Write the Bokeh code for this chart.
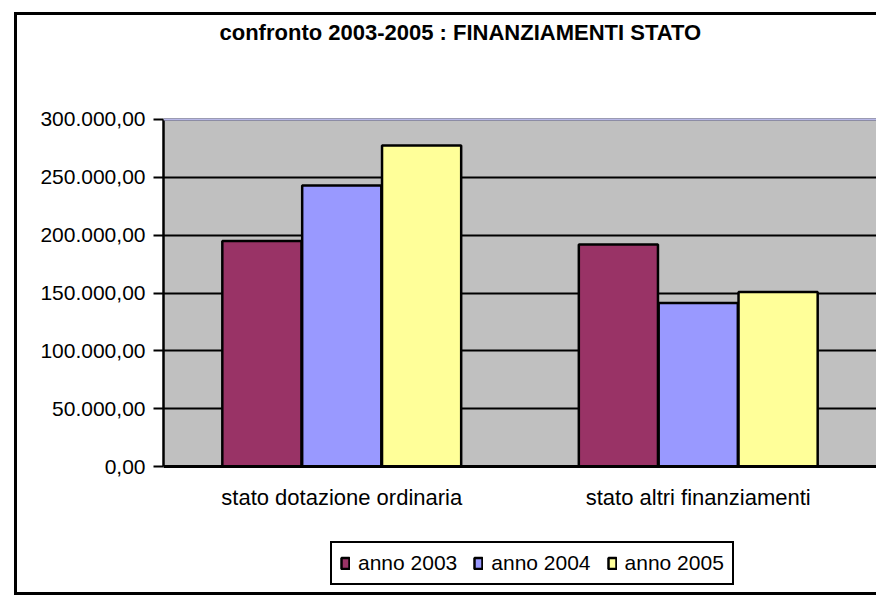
from bokeh.plotting import figure
from bokeh.models import (FactorRange, Range1d, SingleIntervalTicker, CustomJSTickFormatter,
                          Legend, LegendItem, Span, BoxAnnotation, ColumnDataSource)
from bokeh.transform import dodge
from bokeh.embed import file_html
from bokeh.resources import INLINE

categories = ["stato dotazione ordinaria", "stato altri finanziamenti"]
series_names = ["anno 2003", "anno 2004", "anno 2005"]
v2003 = [195000, 192000]
v2004 = [243000, 141500]
v2005 = [277500, 151000]
colors = ["#993366", "#9999FF", "#FFFF99"]
title_text = "confronto 2003-2005 : FINANZIAMENTI STATO"
y_max = 300000
y_step = 50000

FONT = "Liberation Sans"

# frame spans from below the title to the canvas bottom; the value axis covers 0..y_max
PX_PER_UNIT = 348 / y_max
y_lo = -129 / PX_PER_UNIT
y_hi = y_max + 58 / PX_PER_UNIT

src = ColumnDataSource(dict(cat=categories, a=v2003, b=v2004, c=v2005))

p = figure(x_range=FactorRange(*categories), y_range=Range1d(y_lo, y_hi),
           width=876, height=595, output_backend="svg", toolbar_location=None,
           min_border_left=163, min_border_right=0, min_border_top=0, min_border_bottom=0)

# outer chart border (left, top, bottom) drawn as inset shadows on the host element
p.styles = {"box-shadow": ("inset 14px 0 0 white, inset 0 12px 0 white, "
                           "inset 17px 0 0 black, inset 0 15px 0 black, inset 0 -3px 0 black"),
            "background-color": "white"}

p.background_fill_color = None
p.border_fill_color = None
p.outline_line_color = None

# grey plot area
p.add_layout(BoxAnnotation(bottom=0, top=y_max, fill_color="#C0C0C0", fill_alpha=1,
                           line_color=None, level="image"))

offs = [-0.224, 0.0, 0.224]
renderers = []
for key, off, col in zip(["a", "b", "c"], offs, colors):
    r = p.vbar(x=dodge("cat", off, range=p.x_range), top=key, width=0.222, source=src,
               fill_color=col, line_color="black", line_width=2.5)
    renderers.append(r)

# grid
p.xgrid.grid_line_color = None
p.ygrid.grid_line_color = "black"
p.ygrid.grid_line_width = 2
p.ygrid.level = "underlay"
p.add_layout(Span(location=y_max, dimension="width", line_color="#B8B8E8", line_width=2))

# y axis
p.yaxis.bounds = (0, y_max)
p.yaxis.ticker = SingleIntervalTicker(interval=y_step)
p.yaxis.formatter = CustomJSTickFormatter(code="""
const parts = tick.toFixed(2).split('.');
parts[0] = parts[0].replace(/\\B(?=(\\d{3})+(?!\\d))/g, '.');
return parts.join(',');
""")
p.yaxis.axis_line_color = "black"
p.yaxis.axis_line_width = 2.5
p.yaxis.major_tick_line_color = "black"
p.yaxis.major_tick_line_width = 2
p.yaxis.major_tick_out = 10
p.yaxis.major_tick_in = 0
p.yaxis.minor_tick_line_color = None
p.yaxis.major_label_text_font = FONT
p.yaxis.major_label_text_font_size = "21px"
p.yaxis.major_label_text_color = "black"
p.yaxis.major_label_standoff = 8

# x axis sits on value 0
p.xaxis.fixed_location = 0
p.xaxis.axis_line_color = "black"
p.xaxis.axis_line_width = 3
p.xaxis.major_tick_line_color = None
p.xaxis.major_tick_out = 0
p.xaxis.major_tick_in = 0
p.xaxis.minor_tick_line_color = None
p.xaxis.major_label_text_font = FONT
p.xaxis.major_label_text_font_size = "22px"
p.xaxis.major_label_text_color = "black"
p.xaxis.major_label_standoff = 18

# title
p.title.text = title_text
p.title.text_font = FONT
p.title.text_font_size = "22px"
p.title.text_font_style = "bold"
p.title.text_color = "black"
p.title.align = "left"
p.title.offset = 56
p.title.standoff = 34

# legend
legend = Legend(items=[LegendItem(label=n, renderers=[r]) for n, r in zip(series_names, renderers)],
                orientation="horizontal", location=(167, 10))
legend.label_text_font = FONT
legend.label_text_font_size = "21px"
legend.label_text_color = "black"
legend.glyph_width = 10
legend.glyph_height = 14
legend.label_standoff = 8
legend.spacing = 16
legend.padding = 8
legend.margin = 0
legend.border_line_color = "black"
legend.border_line_width = 2
legend.border_line_alpha = 1
legend.background_fill_color = "white"
legend.background_fill_alpha = 1
p.add_layout(legend, "center")

open("out.html", "w").write(file_html(p, INLINE))
